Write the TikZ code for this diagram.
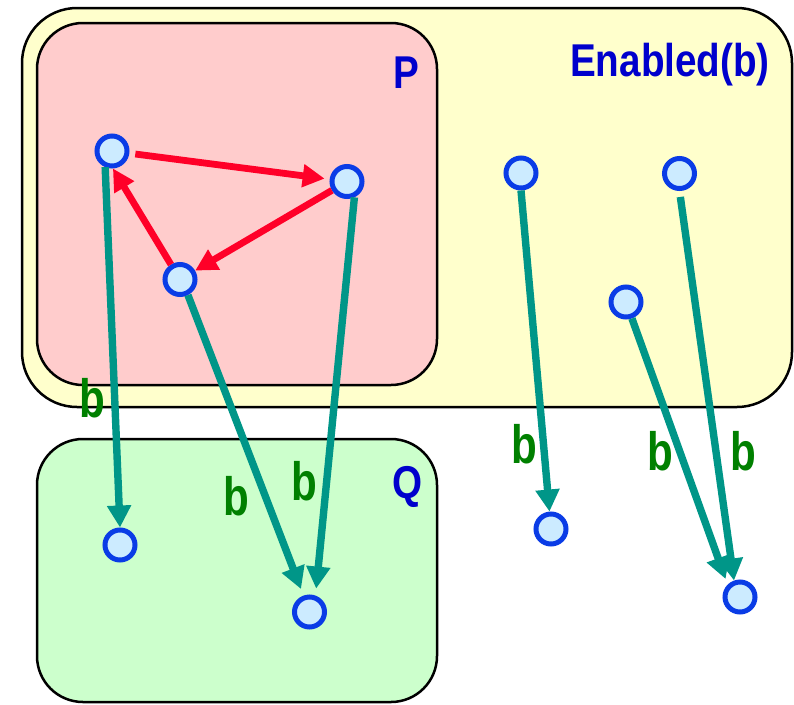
\documentclass[tikz,border=0pt]{standalone}
\usepackage{fontspec}
\setmainfont{Liberation Sans}
\usepackage{graphicx}
\usetikzlibrary{arrows.meta}
\definecolor{encol}{HTML}{FFFFCC}
\definecolor{pcol}{HTML}{FFCCCC}
\definecolor{qcol}{HTML}{CCFFCC}
\definecolor{nodeblue}{HTML}{0A3CE6}
\definecolor{nodefill}{HTML}{CCEBFF}
\definecolor{tealarr}{HTML}{009688}
\definecolor{redarr}{HTML}{FF0028}
\definecolor{lblgreen}{HTML}{008000}
\definecolor{lblblue}{HTML}{0000CC}
\tikzset{
  setbox/.style={draw=black, line width=2.5pt},
  boxlbl/.style={text=lblblue, inner sep=0pt, font=\fontsize{46}{50}\selectfont\bfseries},
  blbl/.style={text=lblgreen, inner sep=0pt, anchor=base, font=\fontsize{54}{58}\selectfont\bfseries},
  state/.style={circle, draw=nodeblue, fill=nodefill, line width=5pt, minimum size=30pt, inner sep=0pt},
  redline/.style={draw=redarr, line width=6.8pt, -{Triangle[length=22pt,width=22pt]}},
  bline/.style={draw=tealarr, line width=7.4pt, -{Triangle[length=22pt,width=23pt]}}
}
\newcommand{\narrow}[1]{\scalebox{0.84}[1]{#1}}
\newcommand{\bnarrow}[1]{\scalebox{0.78}[1]{#1}}
\begin{document}
\begin{tikzpicture}[x=1pt,y=-1pt]
\useasboundingbox (0,0) rectangle (794,704);
% sets
\draw[setbox, fill=encol, rounded corners=55pt] (22,8) rectangle (792,407);
\draw[setbox, fill=pcol, rounded corners=46pt] (37,23) rectangle (437,385);
\draw[setbox, fill=qcol, rounded corners=46pt] (37,439) rectangle (437,702);
% set labels
\node[boxlbl, anchor=base] (lp) at (406,88) {\narrow{P}};
\node[boxlbl, anchor=base east] (len) at (770,76) {\narrow{Enabled(b)}};
\node[boxlbl, anchor=base] (lq) at (408,498) {\narrow{Q}};
% states
\node[state] (p1) at (112,151) {};
\node[state] (p2) at (347,181.5) {};
\node[state] (p3) at (180,279.5) {};
\node[state] (e1) at (521,173) {};
\node[state] (e2) at (679.5,173.5) {};
\node[state] (e3) at (626,302) {};
\node[state] (q1) at (120,545) {};
\node[state] (q2) at (309.5,612) {};
\node[state] (o1) at (551,529) {};
\node[state] (o2) at (740,597) {};
% red transitions
\draw[redline, shorten <=6pt, shorten >=5pt] (p1) -- (p2);
\draw[redline] (p2) -- (p3);
\draw[redline] (p3) -- (p1.-87);
% b transitions
\draw[bline] (p1.-113) -- (q1.north);
\draw[bline, shorten >=7pt] (p3.-63) -- (q2.110);
\draw[bline, shorten >=7pt] (p2.-65) -- (q2.70);
\draw[bline] (e1.south) -- (o1.95);
\draw[bline, shorten >=6pt] (e3) -- (o2.135);
\draw[bline, shorten <=6pt] (e2.south) -- (o2.110);
% b labels
\node[blbl] (b1) at (92,417) {\bnarrow{b}};
\node[blbl] (b2) at (236,515) {\bnarrow{b}};
\node[blbl] (b3) at (304,500) {\bnarrow{b}};
\node[blbl] (b4) at (524,463) {\bnarrow{b}};
\node[blbl] (b5) at (660,470) {\bnarrow{b}};
\node[blbl] (b6) at (743,470) {\bnarrow{b}};
\end{tikzpicture}
\end{document}
